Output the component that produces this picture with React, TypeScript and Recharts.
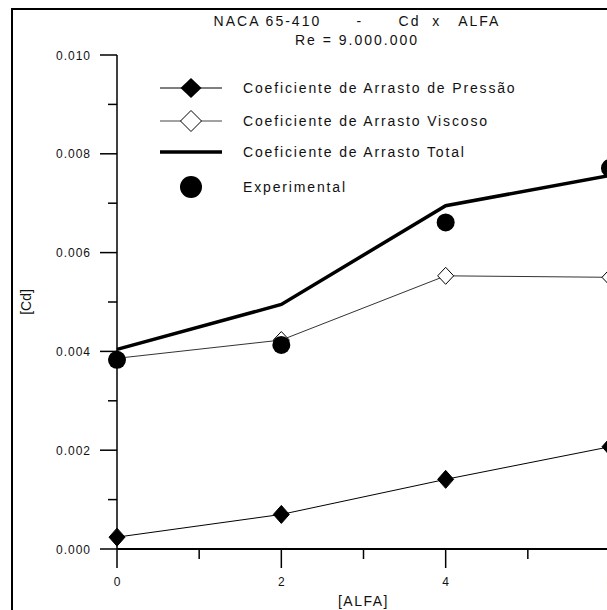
import { ComposedChart, Line, XAxis, YAxis, Legend, Customized } from 'recharts';

const FONT = '"Liberation Sans", Arial, sans-serif';

const alfa = [0, 2, 4, 6];
const cdPressao = [0.00024, 0.0007, 0.00141, 0.00207];
const cdViscoso = [0.00386, 0.00423, 0.00553, 0.0055];
const cdTotal = [0.00404, 0.00495, 0.00695, 0.00756];
const cdExperimental = [0.00383, 0.00413, 0.00661, 0.00771];

const xTicks = [0, 1, 2, 3, 4, 5, 6];
const yTicks = [0, 0.001, 0.002, 0.003, 0.004, 0.005, 0.006, 0.007, 0.008, 0.009, 0.01];

const data = alfa.map((a, i) => ({
  alfa: a,
  pressao: cdPressao[i],
  viscoso: cdViscoso[i],
  total: cdTotal[i],
  experimental: cdExperimental[i],
}));

const diamondPath = (cx: number, cy: number, rx: number, ry: number) =>
  `M${cx},${cy - ry} L${cx + rx},${cy} L${cx},${cy + ry} L${cx - rx},${cy} Z`;

const FilledDiamond = (props: any) => (
  <path key={`fd-${props.index}`} d={diamondPath(props.cx, props.cy, 8, 9)} fill="#000" stroke="#000" />
);

const OpenDiamond = (props: any) => (
  <path key={`od-${props.index}`} d={diamondPath(props.cx, props.cy, 8, 8.5)} fill="#fff" stroke="#000" strokeWidth={1} />
);

const Dot = (props: any) => <circle key={`c-${props.index}`} cx={props.cx} cy={props.cy} r={9} fill="#000" />;

const YTick = (props: any) => {
  const { x, y, payload } = props;
  const major = Math.round(payload.value * 1000) % 2 === 0;
  return (
    <g>
      <line x1={x - (major ? 17 : 9)} y1={y} x2={x} y2={y} stroke="#000" strokeWidth={1.5} />
      {major && (
        <text x={x - 26} y={y} dy={4.5} textAnchor="end" fontSize={12} letterSpacing={1} fill="#111" fontFamily={FONT}>
          {payload.value.toFixed(3)}
        </text>
      )}
    </g>
  );
};

const XTick = (props: any) => {
  const { x, y, payload } = props;
  const major = payload.value % 2 === 0;
  return (
    <g>
      <line x1={x} y1={y} x2={x} y2={y + (major ? 19 : 10)} stroke="#000" strokeWidth={1.5} />
      {major && (
        <text x={x} y={y + 37} textAnchor="middle" fontSize={12} fill="#111" fontFamily={FONT}>
          {payload.value}
        </text>
      )}
    </g>
  );
};

const legendRows = [
  { key: 'pressao', y: 18 },
  { key: 'viscoso', y: 51 },
  { key: 'total', y: 82 },
  { key: 'experimental', y: 117 },
];

const LegendBox = (props: any) => {
  const items = props.payload || [];
  return (
    <svg width={420} height={140}>
      {items.map((item: any, i: number) => {
        const row = legendRows.find((r) => r.key === item.dataKey) || legendRows[i];
        const y = row.y;
        return (
          <g key={item.dataKey}>
            {row.key === 'pressao' && (
              <>
                <line x1={10} x2={72} y1={y} y2={y} stroke="#000" strokeWidth={1} />
                <path d={diamondPath(41, y, 10.5, 10)} fill="#000" />
              </>
            )}
            {row.key === 'viscoso' && (
              <>
                <line x1={10} x2={72} y1={y} y2={y} stroke="#444" strokeWidth={1} />
                <path d={diamondPath(41, y, 10.5, 10.5)} fill="#fff" stroke="#000" />
              </>
            )}
            {row.key === 'total' && <line x1={10} x2={72} y1={y} y2={y} stroke="#000" strokeWidth={3.5} />}
            {row.key === 'experimental' && <circle cx={41} cy={y} r={11} fill="#000" />}
            <text x={93} y={y} dy={5} fontSize={14} letterSpacing={1.85} fill="#111" fontFamily={FONT}>
              {item.value}
            </text>
          </g>
        );
      })}
    </svg>
  );
};

const Title = () => (
  <g fontFamily={FONT} fill="#111" fontSize={14} letterSpacing={2}>
    <text x={357} y={26} textAnchor="middle" style={{ whiteSpace: 'pre' }}>
      {'NACA 65-410      -      Cd  x   ALFA'}
    </text>
    <text x={357} y={45} textAnchor="middle">
      Re = 9.000.000
    </text>
  </g>
);

export default function App() {
  return (
    <div style={{ position: 'absolute', left: 0, top: 0, width: 607, height: 610, overflow: 'hidden', background: '#fff' }}>
      <div
        style={{
          position: 'absolute',
          left: 11,
          top: 8,
          width: 700,
          height: 700,
          borderLeft: '2.5px solid #000',
          borderTop: '2.5px solid #000',
        }}
      />
      <div style={{ position: 'absolute', left: 0, top: 0 }}>
        <ComposedChart width={640} height={640} data={data} margin={{ top: 55, right: 30, bottom: 31, left: 12 }}>
          <XAxis
            type="number"
            dataKey="alfa"
            domain={[0, 6]}
            ticks={xTicks}
            height={60}
            tickSize={0}
            tickMargin={0}
            tick={<XTick />}
            axisLine={{ stroke: '#000', strokeWidth: 2 }}
            label={{ value: '[ALFA]', position: 'insideBottom', offset: 3, fontSize: 14, letterSpacing: 1.5, fill: '#111', fontFamily: FONT }}
          />
          <YAxis
            type="number"
            domain={[0, 0.01]}
            ticks={yTicks}
            width={105}
            tickSize={0}
            tickMargin={0}
            tick={<YTick />}
            axisLine={{ stroke: '#000', strokeWidth: 1.5 }}
            label={{ value: '[Cd]', angle: -90, position: 'insideLeft', offset: 14, fontSize: 14, fill: '#111', fontFamily: FONT, style: { textAnchor: 'middle' } }}
          />
          <Legend layout="vertical" align="center" verticalAlign="middle" wrapperStyle={{ left: 150, top: 70 }} content={<LegendBox />} />
          <Customized component={Title} />
          <Line name="Coeficiente de Arrasto de Pressão" dataKey="pressao" stroke="#000" strokeWidth={1} dot={FilledDiamond} isAnimationActive={false} />
          <Line name="Coeficiente de Arrasto Viscoso" dataKey="viscoso" stroke="#333" strokeWidth={1} dot={OpenDiamond} isAnimationActive={false} />
          <Line name="Coeficiente de Arrasto Total" dataKey="total" stroke="#000" strokeWidth={3.5} dot={false} isAnimationActive={false} />
          <Line name="Experimental" dataKey="experimental" stroke="none" dot={Dot} legendType="circle" isAnimationActive={false} />
        </ComposedChart>
      </div>
    </div>
  );
}
